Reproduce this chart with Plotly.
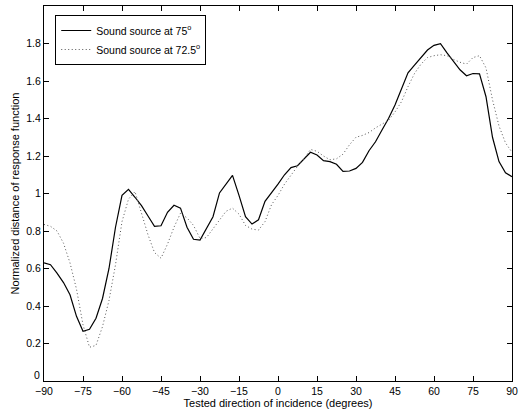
import numpy as np
import plotly.graph_objects as go

# Tested direction of incidence (degrees), 2.5 degree steps
directions = [-90 + 2.5 * i for i in range(73)]

# Sound source at 75 degrees
source_75 = [
    0.63, 0.62, 0.575, 0.525, 0.46, 0.345, 0.265, 0.276, 0.335, 0.44,
    0.60, 0.82, 0.99, 1.022, 0.98, 0.935, 0.88, 0.825, 0.828, 0.90,
    0.937, 0.922, 0.82, 0.756, 0.752, 0.814, 0.876, 1.003, 1.05, 1.097,
    0.99, 0.876, 0.837, 0.86, 0.958, 1.003, 1.05, 1.10, 1.138, 1.148,
    1.185, 1.22, 1.205, 1.175, 1.17, 1.156, 1.118, 1.12, 1.134, 1.166,
    1.228, 1.276, 1.339, 1.40, 1.472, 1.56, 1.644, 1.685, 1.724, 1.765,
    1.79, 1.799, 1.75, 1.705, 1.66, 1.628, 1.64, 1.638, 1.516, 1.30,
    1.17, 1.11, 1.09,
]

# Sound source at 72.5 degrees
source_72_5 = [
    0.835, 0.825, 0.80, 0.735, 0.63, 0.49, 0.30, 0.18, 0.19, 0.29,
    0.43, 0.62, 0.85, 0.97, 1.01, 0.89, 0.78, 0.685, 0.655, 0.73,
    0.82, 0.895, 0.87, 0.83, 0.76, 0.765, 0.81, 0.86, 0.905, 0.922,
    0.89, 0.83, 0.81, 0.805, 0.85, 0.94, 0.99, 1.05, 1.10, 1.145,
    1.185, 1.235, 1.225, 1.20, 1.18, 1.185, 1.21, 1.26, 1.30, 1.31,
    1.325, 1.35, 1.37, 1.39, 1.435, 1.49, 1.57, 1.64, 1.69, 1.725,
    1.735, 1.74, 1.735, 1.715, 1.70, 1.69, 1.725, 1.735, 1.67, 1.50,
    1.36, 1.27, 1.22,
]

x_ticks = list(range(-90, 91, 15))
y_ticks = [0, 0.2, 0.4, 0.6, 0.8, 1, 1.2, 1.4, 1.6, 1.8, 2]
# the "0" label is drawn separately, lifted above the x tick labels
y_tick_text = ["", "0.2", "0.4", "0.6", "0.8", "1", "1.2", "1.4", "1.6", "1.8", "2"]

fig = go.Figure()
fig.add_trace(go.Scatter(
    x=directions, y=source_75, mode="lines",
    name="Sound source at 75<sup>o</sup>",
    line=dict(color="black", width=1.2),
))
fig.add_trace(go.Scatter(
    x=directions, y=source_72_5, mode="lines",
    name="Sound source at 72.5<sup>o</sup>",
    line=dict(color="#555555", width=1, dash="1px,2.5px"),
))

font = "Liberation Sans, Arial, Helvetica, sans-serif"
axis_common = dict(
    showline=True, linecolor="black", linewidth=1.3, mirror="allticks",
    ticks="inside", ticklen=5, tickcolor="black", tickwidth=1,
    showgrid=False, zeroline=False,
    tickfont=dict(family=font, size=10.5, color="black"),
)

fig.add_annotation(
    x=0, y=0, xref="paper", yref="y", text="0", showarrow=False,
    xanchor="right", yanchor="middle", xshift=-2, yshift=6,
    font=dict(family=font, size=10.5, color="black"),
)

fig.update_layout(
    width=531, height=412,
    margin=dict(l=44, r=19, t=6, b=31),
    paper_bgcolor="white", plot_bgcolor="white",
    font=dict(family=font, size=10.5, color="black"),
    showlegend=True,
    legend=dict(
        x=0.024, y=0.976, xanchor="left", yanchor="top",
        bordercolor="black", borderwidth=1, bgcolor="white",
        font=dict(family=font, size=10.5, color="black"),
        itemwidth=30, tracegroupgap=0,
    ),
    xaxis=dict(
        range=[-90, 90], tickvals=x_ticks,
        title=dict(text="Tested direction of incidence (degrees)",
                   font=dict(family=font, size=11), standoff=0),
        **axis_common,
    ),
    yaxis=dict(
        range=[0, 2], tickvals=y_ticks, ticktext=y_tick_text,
        title=dict(text="Normalized distance of response function",
                   font=dict(family=font, size=11), standoff=4),
        **axis_common,
    ),
)

fig.write_html("out.html")
